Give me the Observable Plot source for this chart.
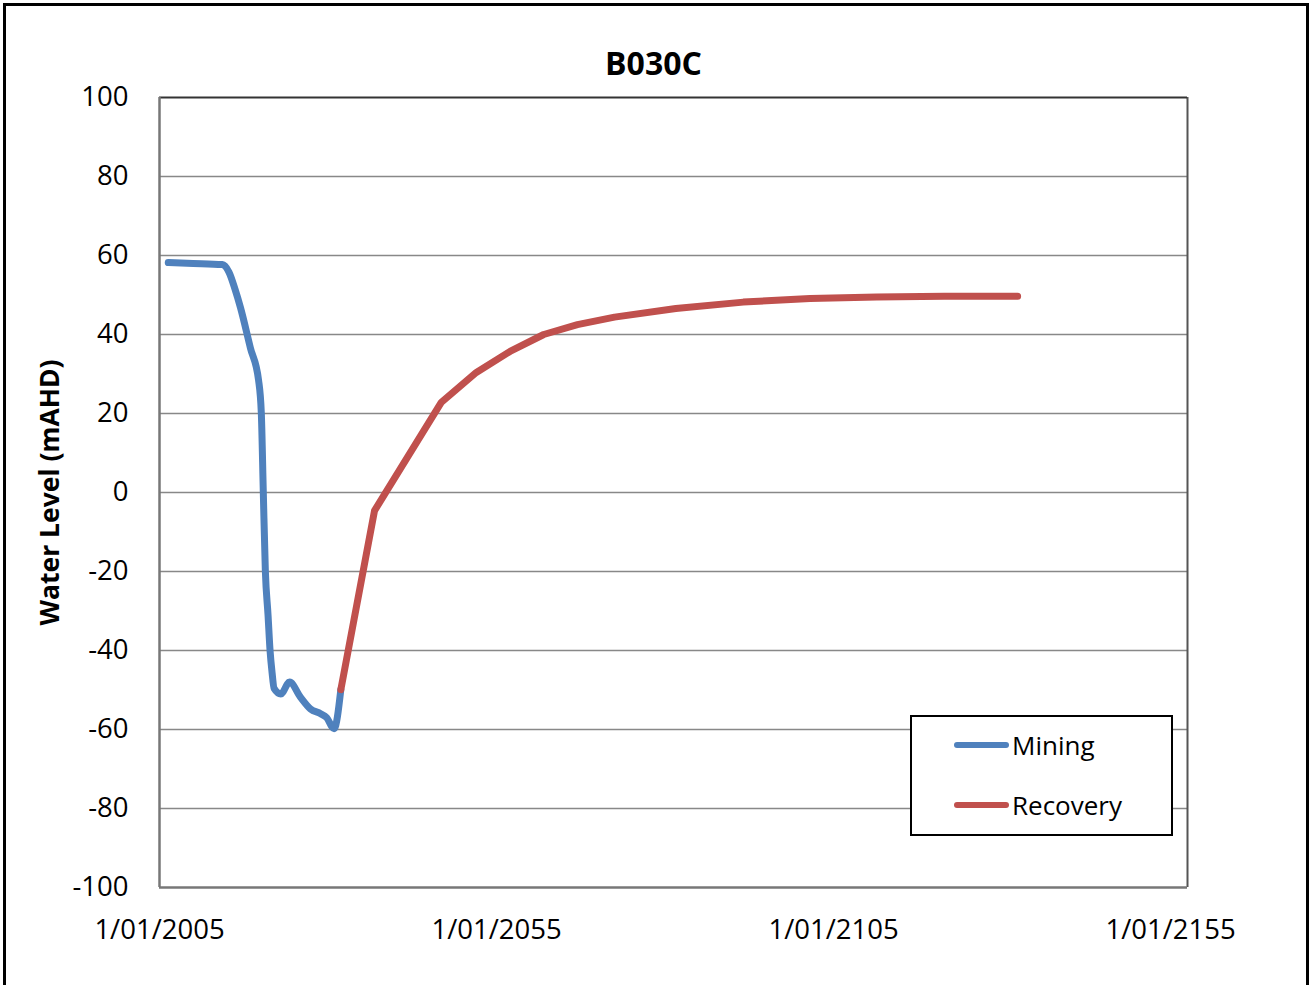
<!DOCTYPE html>
<html>
<head>
<meta charset="utf-8">
<script src="https://cdn.jsdelivr.net/npm/d3@7"></script>
<script src="https://cdn.jsdelivr.net/npm/@observablehq/plot@0.6"></script>
<style>
  html, body { margin: 0; padding: 0; background: #fff; overflow: hidden; }
  #wrap { position: relative; width: 1310px; height: 985px; overflow: hidden; }
  #frame { position: absolute; left: 3px; top: 3px; width: 1300px; height: 1000px; border: 3px solid #000; pointer-events: none; }
  #legend { position: absolute; left: 910px; top: 715px; width: 259px; height: 117px; border: 2px solid #000; background: #fff;
            font-family: "Open Sans", sans-serif; font-size: 26px; color: #000; }
  .item { position: absolute; left: 0; height: 30px; display: flex; align-items: center; }
  .swatch { width: 55px; height: 6px; border-radius: 3px; margin-left: 42px; margin-right: 3px; }
</style>
</head>
<body>
<div id="wrap"></div>
<script>
const chartTitle = "B030C";
const yLabel = "Water Level (mAHD)";
const seriesNames = ["Mining", "Recovery"];
const seriesColors = ["#4F81BD", "#C0504D"];

// decimal years and water levels (mAHD)
const miningYears  = [2006.3, 2010.0, 2014.3, 2015.3, 2016.2, 2017.0, 2018.5, 2019.7, 2020.1, 2020.4, 2020.7, 2021.1, 2021.4, 2021.7, 2022.0, 2023.0, 2024.3, 2025.9, 2027.4, 2028.9, 2029.8, 2030.9, 2031.9];
const miningLevels = [58.2,   58.0,   57.7,   55.8,   51.5,   46.9,   36.5,   28.4,   20.3,   0.0,    -19.7,  -31.0,  -40.0,  -45.6,  -49.6,  -51.0,  -48.0,  -51.8,  -54.8,  -56.0,  -57.0,  -59.8,  -49.9];

const recoveryYears  = [2031.9, 2036.9, 2046.8, 2052.0, 2057.0, 2062.0, 2067.0, 2072.5, 2081.6, 2091.6, 2101.5, 2111.4, 2121.4, 2132.3];
const recoveryLevels = [-49.9,  -4.6,   22.8,   30.4,   35.7,   40.0,   42.5,   44.4,   46.6,   48.2,   49.1,   49.5,   49.7,   49.7];

const xTickYears = [2005, 2055, 2105, 2155];
const xTickLabels = ["1/01/2005", "1/01/2055", "1/01/2105", "1/01/2155"];
const yTickValues = [-100, -80, -60, -40, -20, 0, 20, 40, 60, 80, 100];

const mining = miningYears.map((x, i) => ({x, y: miningLevels[i]}));
const recovery = recoveryYears.map((x, i) => ({x, y: recoveryLevels[i]}));

const chart = Plot.plot({
  width: 1310,
  height: 985,
  marginLeft: 159,
  marginRight: 123,
  marginTop: 97,
  marginBottom: 98,
  style: { fontFamily: "Open Sans, sans-serif", fontSize: "27px", color: "#000", background: "transparent" },
  x: { type: "linear", domain: [2005, 2157.5] },
  y: { domain: [-100, 100] },
  marks: [
    Plot.ruleY(yTickValues.filter(v => v > -100 && v < 100), { stroke: "#888", strokeWidth: 1.5 }),
    Plot.ruleX([2157.5], { stroke: "#555", strokeWidth: 2 }),
    Plot.ruleY([100], { stroke: "#333", strokeWidth: 2 }),
    Plot.ruleY([-100], { stroke: "#777", strokeWidth: 2.5 }),
    Plot.ruleX([2005], { stroke: "#777", strokeWidth: 2.5 }),
    Plot.line(mining, { x: "x", y: "y", stroke: seriesColors[0], strokeWidth: 7, curve: "monotone-x", strokeLinecap: "round", strokeLinejoin: "round" }),
    Plot.line(recovery, { x: "x", y: "y", stroke: seriesColors[1], strokeWidth: 7, strokeLinecap: "round", strokeLinejoin: "round" }),
    Plot.axisY({ ticks: yTickValues, tickSize: 0, tickPadding: 31, label: null, fontSize: 27.5, fill: "#000",
                 tickFormat: d => String(d) }),
    Plot.axisX({ ticks: xTickYears, tickSize: 0, tickPadding: 32, label: null, fontSize: 27.5, fill: "#000",
                 tickFormat: d => xTickLabels[xTickYears.indexOf(d)] }),
    Plot.text([chartTitle], { frameAnchor: "top", lineAnchor: "middle", dx: -20, dy: -33, text: d => d, fontSize: 32, fontWeight: "bold", fill: "#000" }),
    Plot.text([yLabel], { frameAnchor: "left", textAnchor: "middle", lineAnchor: "middle", dx: -109, rotate: -90, text: d => d, fontSize: 26.5, fontWeight: "bold", fill: "#000" })
  ]
});

const wrap = document.getElementById("wrap");
wrap.appendChild(chart);

const frame = document.createElement("div");
frame.id = "frame";
wrap.appendChild(frame);

const legend = document.createElement("div");
legend.id = "legend";
seriesNames.forEach((name, i) => {
  const item = document.createElement("div");
  item.className = "item";
  item.style.top = (i === 0 ? 13 : 73) + "px";
  const sw = document.createElement("div");
  sw.className = "swatch";
  sw.style.background = seriesColors[i];
  const label = document.createElement("span");
  label.textContent = name;
  item.appendChild(sw);
  item.appendChild(label);
  legend.appendChild(item);
});
wrap.appendChild(legend);
</script>
</body>
</html>
